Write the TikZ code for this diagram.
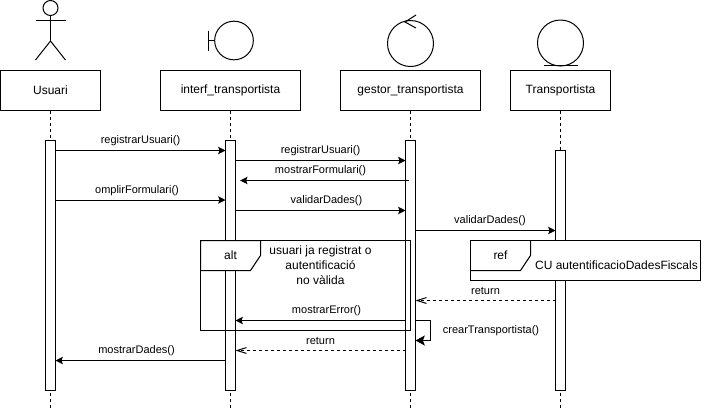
\documentclass[tikz,border=0pt]{standalone}
\usepackage{fontspec}
\setmainfont{Liberation Sans}
\usetikzlibrary{arrows.meta}

\tikzset{
    objbox/.style={draw, fill=white, minimum height=30pt, inner sep=0pt, outer sep=0pt, font=\fontsize{9}{11}\selectfont},
    bar/.style={draw, fill=white, minimum width=7.5pt, inner sep=0pt, outer sep=0pt},
    life/.style={dashed, dash pattern=on 2.25pt off 2.25pt},
    msg/.style={-{Stealth[length=5.5pt,width=5.5pt,inset=1pt]}},
    selfmsg/.style={-{Stealth[length=7pt,width=7.5pt,inset=1.5pt]}},
    ret/.style={dashed, dash pattern=on 2.25pt off 2.25pt, -{Straight Barb[length=7pt,width=7.5pt,angle'=35]}},
    lab/.style={inner sep=0pt, font=\fontsize{8.25}{10}\selectfont},
    frametext/.style={inner sep=0pt, font=\fontsize{9}{11.25}\selectfont, align=center},
}

\begin{document}
\begin{tikzpicture}[x=0.75pt, y=-0.75pt, line width=0.75pt]
    \useasboundingbox (0,0) rectangle (711,412);

    % objects
    \node[objbox, minimum width=75pt] (usuari) at (50.5,90.5) {Usuari};
    \node[objbox, minimum width=105pt] (interf) at (230.5,90.5) {interf\_transportista};
    \node[objbox, minimum width=105pt] (gestor) at (410.5,90.5) {gestor\_transportista};
    \node[objbox, minimum width=75pt] (transp) at (560.5,90.5) {Transportista};

    % lifelines
    \coordinate (lifeend) at (0,408);
    \draw[life] (usuari) -- (usuari |- lifeend);
    \draw[life] (interf) -- (interf |- lifeend);
    \draw[life] (gestor) -- (gestor |- lifeend);
    \draw[life] (transp) -- (transp |- lifeend);

    % activations
    \node[bar, minimum height=187.5pt] (barusuari) at (50.5,265.5) {};
    \node[bar, minimum height=187.5pt] (barinterf) at (230.5,265.5) {};
    \node[bar, minimum height=187.5pt] (bargestor) at (410.5,265.5) {};
    \node[bar, minimum height=180pt] (bartransp) at (560.5,270.5) {};

    % actor
    \node[draw, circle, minimum size=11.25pt, inner sep=0pt, outer sep=0pt] (head) at (50.5,8) {};
    \coordinate (hip) at (50.5,41);
    \draw (head) -- (hip);
    \draw (35.5,20) -- (65.5,20);
    \draw (35.5,60) -- (hip) -- (65.5,60);

    % boundary
    \node[draw, circle, minimum size=29pt, inner sep=0pt, outer sep=0pt] (bound) at (234,40.5) {};
    \coordinate (boundbar) at (208,40.5);
    \draw (bound) -- (boundbar);
    \draw (208,30.5) -- (208,50.5);

    % control
    \node[draw, circle, minimum size=34.5pt, inner sep=0pt, outer sep=0pt] (control) at (410.5,43.5) {};
    \draw (416,15) -- (405,22) -- (416,28);

    % entity
    \node[draw, circle, minimum size=34.5pt, inner sep=0pt, outer sep=0pt] (entity) at (560.5,43) {};
    \draw (543.5,65.5) -- (577.5,65.5);

    % rows
    \coordinate (r1) at (0,150.5);
    \coordinate (r2) at (0,160.5);
    \coordinate (r3) at (0,180.5);
    \coordinate (r4) at (0,200);
    \coordinate (r5) at (0,210.5);
    \coordinate (r6) at (0,230.5);
    \coordinate (r7) at (0,300.5);
    \coordinate (r8) at (0,320.5);
    \coordinate (r9) at (0,340.5);
    \coordinate (r10) at (0,350.5);
    \coordinate (r11) at (0,360.5);

    % messages
    \draw[msg] (barusuari.east |- r1) -- (barinterf.west |- r1);
    \node[lab] (l1) at (140.5,141) {registrarUsuari()};
    \draw[msg] (barinterf.east |- r2) -- (bargestor.west |- r2);
    \node[lab] (l2) at (320.5,151) {registrarUsuari()};
    \draw[msg] ([xshift=-1pt]bargestor.center |- r3) -- ([xshift=3.5pt]barinterf.east |- r3);
    \node[lab] (l3) at (320.5,170.5) {mostrarFormulari()};
    \draw[msg] (barusuari.east |- r4) -- (barinterf.west |- r4);
    \node[lab] (l4) at (137,191) {omplirFormulari()};
    \draw[msg] (barinterf.east |- r5) -- (bargestor.west |- r5);
    \node[lab] (l5) at (326.5,200.5) {validarDades()};
    \draw[msg] (bargestor.east |- r6) -- (bartransp.west |- r6);
    \node[lab] (l6) at (490,220.5) {validarDades()};
    \draw[ret] (bartransp.west |- r7) -- (bargestor.east |- r7);
    \node[lab] (l7) at (485.5,291) {return};
    \draw[msg] (bargestor.west |- r8) -- (barinterf.east |- r8);
    \node[lab] (l8) at (326.5,310.5) {mostrarError()};
    \draw[selfmsg] (bargestor.east |- r8) -| (430.5,340.5) -- (bargestor.east |- r9);
    \node[lab] (l9) at (491,330.5) {crearTransportista()};
    \draw[ret] (bargestor.west |- r10) -- (barinterf.east |- r10);
    \node[lab] (l10) at (320.5,341) {return};
    \draw[msg] (barinterf.west |- r11) -- (barusuari.east |- r11);
    \node[lab] (l11) at (136.5,350.5) {mostrarDades()};

    % alt
    \draw (200.5,240.5) rectangle (410.5,330.5);
    \draw[fill=white] (200.5,240.5) -- (260.5,240.5) -- (260.5,255.5) -- (250.5,270.5) -- (200.5,270.5) -- cycle;
    \node[frametext] (alt) at (230.5,255) {alt};
    \node[frametext] (cond) at (320.5,265.5) {usuari ja registrat o\\autentificació\\no vàlida};

    % ref
    \draw[fill=white] (470.5,240.5) rectangle (700.5,280.5);
    \draw (470.5,270.5) -- (520.5,270.5) -- (530.5,255.5) -- (530.5,240.5);
    \node[frametext] (refl) at (500.5,255) {ref};
    \node[frametext] (cu) at (616.5,265) {CU autentificacioDadesFiscals};
\end{tikzpicture}
\end{document}
